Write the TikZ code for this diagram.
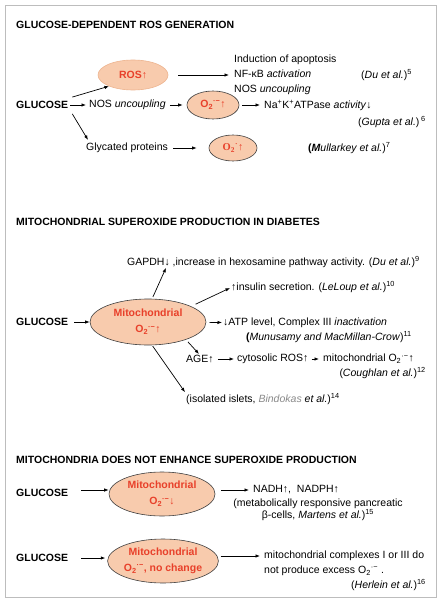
\documentclass[tikz,border=0pt]{standalone}
\usepackage{fontspec}
\setmainfont{Liberation Sans}
\newfontfamily\serifrm{Liberation Serif}
\usetikzlibrary{arrows.meta,shapes.geometric}
\definecolor{peach}{HTML}{F8CBAD}
\definecolor{peachedge}{HTML}{EDB48F}
\definecolor{redtxt}{HTML}{E8402A}
\definecolor{framegray}{HTML}{BDBDBD}
\definecolor{refgray}{HTML}{8A8A8A}
\newcommand{\oxsup}{O\textsubscript{2}\textsuperscript{·−}}
\begin{document}
\begin{tikzpicture}[x=1pt,y=-1pt,
  every node/.style={font=\fontsize{10.5}{12.5}\selectfont, inner sep=1pt},
  txt/.style={anchor=west},
  rtxt/.style={anchor=east},
  ttl/.style={anchor=west, font=\fontsize{10.5}{12}\selectfont\bfseries},
  glu/.style={anchor=west, font=\fontsize{10.5}{12}\selectfont\bfseries},
  oval/.style={ellipse, fill=peach, draw=black!75, line width=0.6pt, text=redtxt,
    font=\fontsize{10.5}{16}\selectfont\bfseries, align=center, inner sep=0pt},
  arr/.style={-{Latex[length=4.5pt,width=3.4pt]}, line width=0.7pt},
]
\fill[white] (0,0) rectangle (440,607);
\useasboundingbox (0,0) rectangle (440,607);
\draw[framegray, line width=0.9pt] (5,5) rectangle (436,597);

% ---------- Section 1 ----------
\node[ttl] (t1) at (15,25) {GLUCOSE-DEPENDENT ROS GENERATION};
\node[oval, draw=peachedge, minimum width=70pt, minimum height=30pt] (ros) at (133,75) {ROS↑};
\node[txt, align=left, font=\fontsize{10.5}{15}\selectfont] (eff) at (233,75)
  {Induction of apoptosis\\NF-κB \textit{activation}\\NOS \textit{uncoupling}};
\node[txt] (du5) at (360,75) {(\textit{Du et al.})\textsuperscript{5}};
\node[glu] (g1) at (15,105) {GLUCOSE};
\node[txt] (nos) at (88,105) {NOS \textit{uncoupling}};
\node[oval, minimum width=52pt, minimum height=28pt] (o2a) at (213,105) {\oxsup↑};
\node[txt] (na) at (263,105) {Na\textsuperscript{+}K\textsuperscript{+}ATPase \textit{activity}↓};
\node[rtxt] (gup) at (427,122) {(\textit{Gupta et al.})\,\textsuperscript{6}};
\node[txt] (gly) at (85,148) {Glycated proteins};
\node[oval, minimum width=48pt, minimum height=26pt, font=\fontsize{10.5}{12}\selectfont\serifrm\bfseries] (o2b) at (233,148) {O\textsubscript{2}\textsuperscript{·}↑};
\node[txt] (mul) at (307,148) {\textbf{(}\textit{\textbf{M}ullarkey et al.})\textsuperscript{7}};

\draw[arr] ([shift={(3pt,3pt)}]g1.north east) -- (ros.205);
\draw[arr, shorten >=4pt] ([xshift=10pt]ros.east) -- (eff.west);
\draw[arr, shorten <=1pt, shorten >=2pt] (g1) -- (nos);
\draw[arr, shorten <=3pt, shorten >=4pt] (nos) -- (o2a);
\draw[arr, shorten <=3pt, shorten >=3pt] (o2a) -- (na);
\draw[arr] ([shift={(3pt,-4pt)}]g1.south east) -- ([shift={(3pt,2pt)}]gly.north west);
\draw[arr, shorten <=4pt, shorten >=12pt] (gly) -- (o2b);

% ---------- Section 2 ----------
\node[ttl] (t2) at (15,222) {MITOCHONDRIAL SUPEROXIDE PRODUCTION IN DIABETES};
\node[oval, minimum width=116pt, minimum height=46pt] (mito) at (148,322) {Mitochondrial\\\oxsup↑};
\node[glu] (g2) at (15,322) {GLUCOSE};
\node[txt] (gapdh) at (126,262) {GAPDH↓ ,increase in hexosamine pathway activity. (\textit{Du et al.})\textsuperscript{9}};
\node[txt] (ins) at (230,287) {↑insulin secretion. (\textit{LeLoup et al.})\textsuperscript{10}};
\node[txt] (atp) at (222,323) {↓ATP level, Complex III \textit{inactivation}};
\node[rtxt] (mun) at (413,337) {\textbf{(}\textit{Munusamy and MacMillan-Crow})\textsuperscript{11}};
\node[txt] (age) at (185,359) {AGE↑};
\node[txt] (cyt) at (236,359) {cytosolic ROS↑};
\node[txt] (mitoc) at (322,359) {mitochondrial \oxsup↑};
\node[rtxt] (cou) at (427,373) {(\textit{Coughlan et al.})\textsuperscript{12}};
\node[txt] (isl) at (185,399) {(isolated islets, \textcolor{refgray}{\textit{Bindokas}} \textit{et al.})\textsuperscript{14}};

\draw[arr, shorten <=5pt] (g2) -- (mito);
\draw[arr, shorten <=2pt] (mito.80) -- ([shift={(40pt,1pt)}]gapdh.south west);
\draw[arr, shorten <=5pt] (mito.20) -- ([yshift=-1pt]ins.west);
\draw[arr, shorten <=3pt] (mito) -- (atp);
\draw[arr, shorten <=3pt] (mito.-25) -- ([xshift=14pt]age.north west);
\draw[arr, shorten <=1pt] (mito.-80) -- (isl.north west);
\draw[arr, shorten <=3pt, shorten >=2pt] (age) -- (cyt);
\draw[arr, shorten <=2pt, shorten >=3pt] (cyt) -- (mitoc);

% ---------- Section 3 ----------
\node[ttl] (t3) at (15,460) {MITOCHONDRIA DOES NOT ENHANCE SUPEROXIDE PRODUCTION};
\node[glu] (g3) at (15,493) {GLUCOSE};
\node[oval, minimum width=106pt, minimum height=44pt] (m3) at (162,494) {Mitochondrial\\\oxsup↓};
\node[txt] (nadh) at (252,490) {NADH↑,\ \ NADPH↑};
\node[align=center] (metab) at (318,510) {(metabolically responsive pancreatic\\β-cells, \textit{Martens et al.})\textsuperscript{15}};
\draw[arr] ([xshift=12pt]g3.east |- nadh.west) -- (m3.west |- nadh.west);
\draw[arr, shorten <=6pt, shorten >=3pt] (m3.east |- nadh.west) -- (nadh.west);

\node[glu] (g4) at (15,558) {GLUCOSE};
\node[oval, minimum width=106pt, minimum height=44pt] (m4) at (163,561) {Mitochondrial\\\oxsup, no change};
\node[txt] (cpx1) at (263,556) {mitochondrial complexes I or III do};
\node[txt] (cpx2) at (263,571) {not produce excess \oxsup\ .};
\node[rtxt] (her) at (427,585) {(\textit{Herlein et al.})\textsuperscript{16}};
\draw[arr, shorten >=2pt] ([xshift=12pt]g4.east) -- (m4.west |- g4.east);
\draw[arr, shorten <=2pt, shorten >=3pt] (m4.east |- cpx1.west) -- (cpx1.west);
\end{tikzpicture}
\end{document}
